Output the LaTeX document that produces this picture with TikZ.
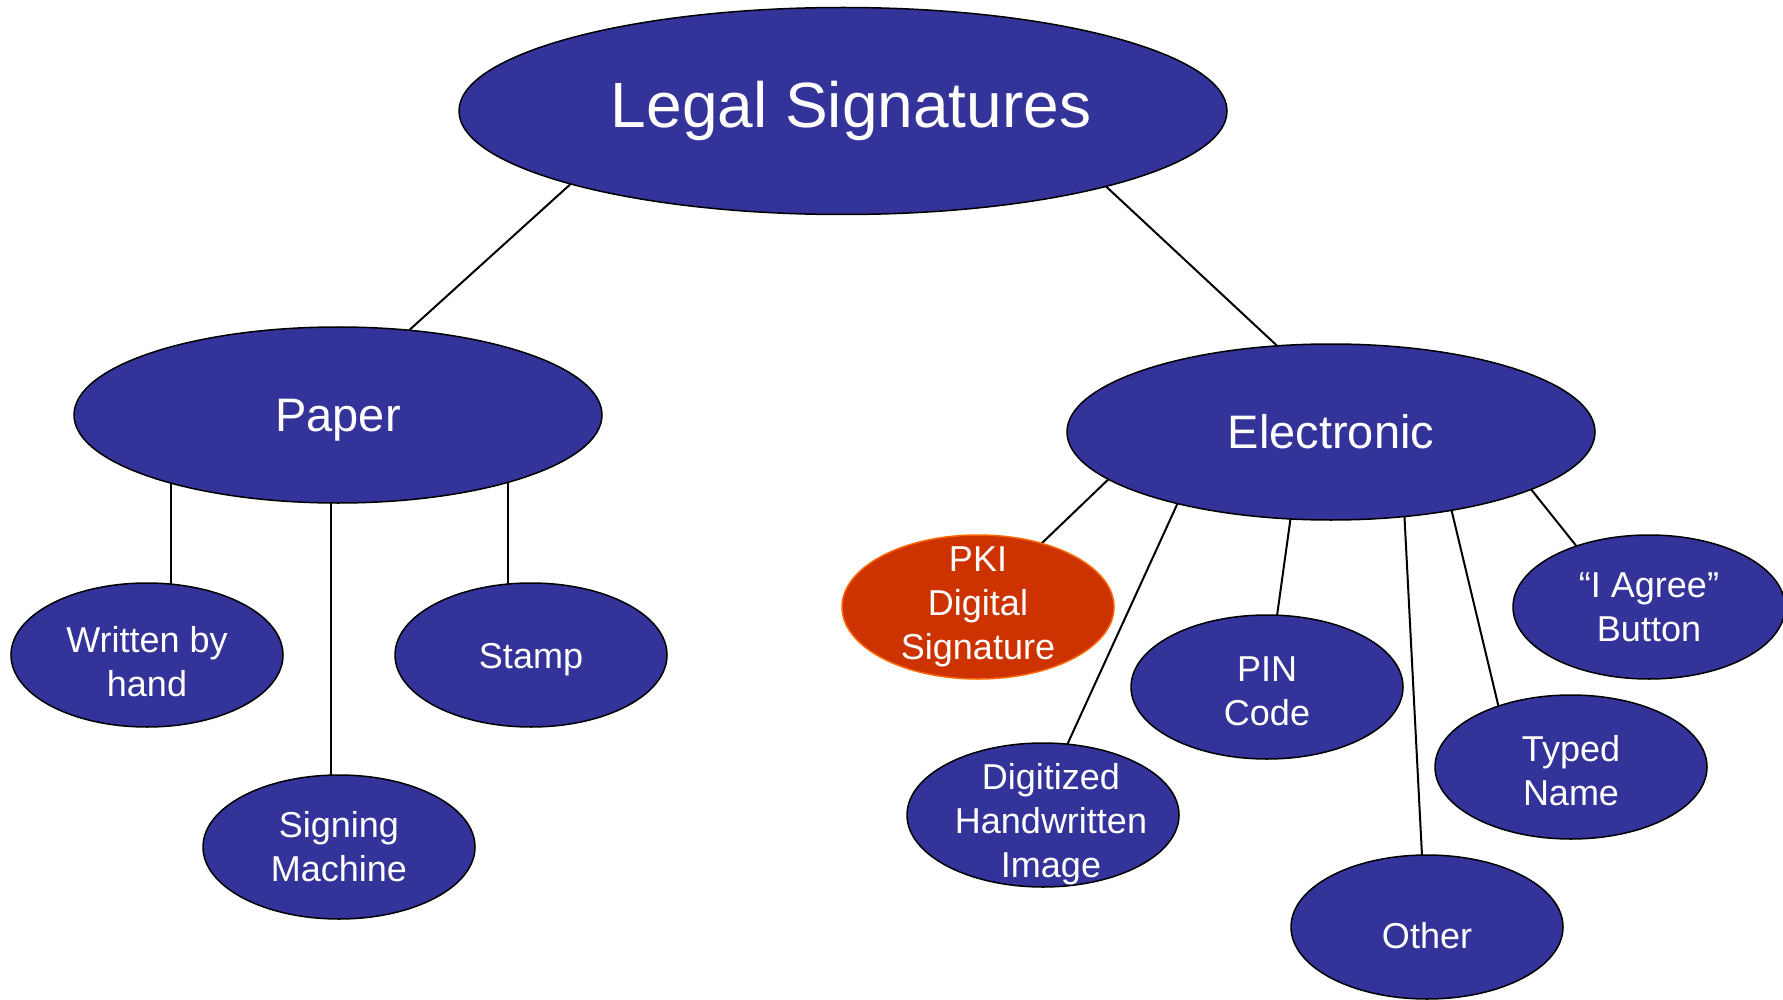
\documentclass[tikz,border=0pt]{standalone}
\usepackage{fontspec}
\setmainfont{Liberation Sans}
\usetikzlibrary{shapes.geometric,backgrounds}
\definecolor{nodeblue}{HTML}{333399}
\definecolor{pkired}{HTML}{CC3300}
\definecolor{pkiedge}{HTML}{FF6600}
\tikzset{
  oval/.style={ellipse, draw=black, line width=1.5pt, fill=nodeblue,
    inner sep=0pt, outer sep=0pt},
  txt/.style={text=white, align=center, inner sep=0pt},
  bigtxt/.style={txt, font=\fontsize{47}{54}\selectfont},
  smalltxt/.style={txt, font=\fontsize{36}{44}\selectfont},
  bigoval/.style={oval, minimum width=528pt, minimum height=176pt},
  smalloval/.style={oval, minimum width=272pt, minimum height=144pt},
  link/.style={draw=black, line width=2pt},
}
\begin{document}
\begin{tikzpicture}[x=1pt,y=-1pt]
\useasboundingbox (0,0) rectangle (1783,1000);
\node[oval, minimum width=768pt, minimum height=207pt,
  label={[txt, font=\fontsize{64}{72}\selectfont, xshift=8pt]center:Legal Signatures}] (top) at (843,111) {};
\node[bigoval, label={[bigtxt, yshift=-5pt]center:Paper}] (paper) at (338,415) {};
\node[bigoval, label={[bigtxt]center:Electronic}] (elec) at (1331,432) {};
\node[smalloval, label={[smalltxt, yshift=-7pt]center:{Written by\\hand}}] (written) at (147,655) {};
\node[smalloval, label={[smalltxt, yshift=-5pt]center:Stamp}] (stamp) at (531,655) {};
\node[smalloval, label={[smalltxt]center:{Signing\\Machine}}] (signing) at (339,847) {};
\node[smalloval, fill=pkired, draw=pkiedge, label={[smalltxt]center:{PKI\\Digital\\Signature}}] (pki) at (978,607) {};
\node[smalloval, label={[smalltxt, xshift=8pt, yshift=-9pt]center:{Digitized\\Handwritten\\Image}}] (digit) at (1043,815) {};
\node[smalloval, label={[smalltxt, yshift=-4pt]center:{PIN\\Code}}] (pin) at (1267,687) {};
\node[smalloval, label={[smalltxt, yshift=-9pt]center:Other}] (other) at (1427,927) {};
\node[smalloval, label={[smalltxt, yshift=-4pt]center:{Typed\\Name}}] (typed) at (1571,767) {};
\node[smalloval, label={[smalltxt]center:{“I Agree”\\Button}}] (agree) at (1649,607) {};

\begin{scope}[on background layer]
\draw[link] (top.195.1) -- (paper.50.7);
\draw[link] (top.344.3) -- (elec.122.2);
\draw[link] (written.71.6) -- (written.71.6 |- paper.center);
\draw[link] (signing.96.3) -- (signing.96.3 |- paper.center);
\draw[link] (stamp.108.4) -- (stamp.108.4 |- paper.center);
\draw[link] (elec.192) -- (pki.45);
\draw[link] (elec.205.2) -- (digit.71.1);
\draw[link] (elec.245.6) -- (pin.82.9);
\draw[link] (elec.311.2) -- (other.94);
\draw[link] (elec.327.1) -- (typed.140.4);
\draw[link] (elec.344) -- (agree.140.9);
\end{scope}
\end{tikzpicture}
\end{document}
